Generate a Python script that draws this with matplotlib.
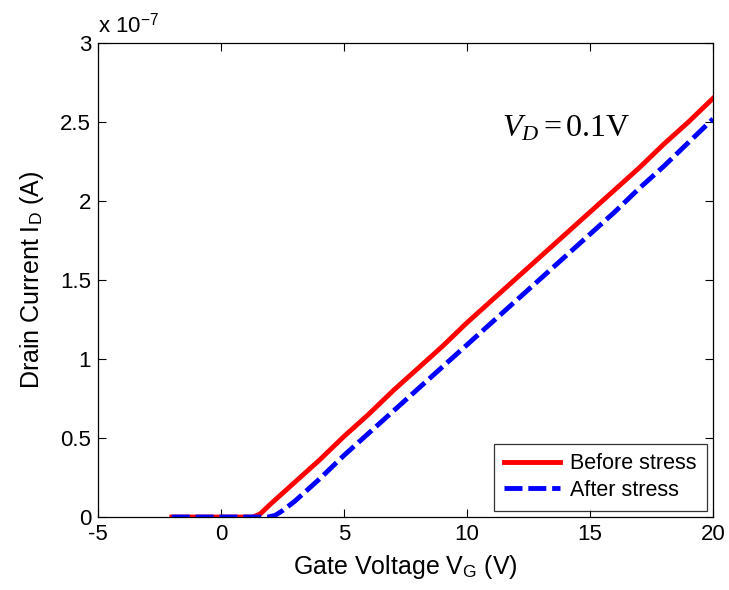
import numpy as np
import matplotlib
matplotlib.use("Agg")
import matplotlib.pyplot as plt

plt.rcParams["font.family"] = ["Liberation Sans", "DejaVu Sans"]
plt.rcParams["mathtext.fontset"] = "custom"
plt.rcParams["mathtext.rm"] = "Liberation Serif"
plt.rcParams["mathtext.it"] = "Liberation Serif:italic"
plt.rcParams["mathtext.sf"] = "Liberation Sans"

# gate voltage (V) and drain current (units of 1e-7 A)
vg_before = [-2, 1.3, 1.6, 2, 2.5, 3, 4, 5, 6, 7, 8, 9, 10, 11, 12, 13, 14,
             15, 16, 17, 18, 19, 20]
id_before = [0, 0, 0.02, 0.08, 0.15, 0.22, 0.36, 0.51, 0.65, 0.80, 0.94,
             1.08, 1.23, 1.37, 1.51, 1.65, 1.79, 1.93, 2.07, 2.21, 2.36,
             2.50, 2.65]

vg_after = [-2, 1.9, 2.2, 2.5, 3, 4, 5, 6, 7, 8, 9, 10, 11, 12, 13, 14, 15,
            16, 17, 18, 19, 20]
id_after = [0, 0, 0.01, 0.04, 0.10, 0.24, 0.39, 0.53, 0.67, 0.81, 0.95,
            1.09, 1.23, 1.37, 1.51, 1.65, 1.79, 1.93, 2.08, 2.22, 2.37, 2.52]

xticks = [-5, 0, 5, 10, 15, 20]
yticks = [0, 0.5, 1, 1.5, 2, 2.5, 3]
ytick_labels = ["0", "0.5", "1", "1.5", "2", "2.5", "3"]

fig = plt.figure(figsize=(7.29, 5.9), dpi=100)
ax = fig.add_axes([0.1344, 0.1237, 0.8436, 0.8033])

ax.plot(vg_before, id_before, color="#ff0000", linewidth=3.5,
        label="Before stress")
ax.plot(vg_after, id_after, color="#0000ff", linewidth=3.5,
        linestyle=(0, (3.7, 1.2)), label="After stress")

ax.set_xlim(-5, 20)
ax.set_ylim(0, 3)
ax.set_xticks(xticks)
ax.set_xticklabels([str(t) for t in xticks])
ax.set_yticks(yticks)
ax.set_yticklabels(ytick_labels)
ax.tick_params(direction="in", length=6, width=0.8, labelsize=16,
               top=True, right=True, pad=5)
for s in ax.spines.values():
    s.set_linewidth(0.9)

ax.set_xlabel(r"Gate Voltage V$_\mathsf{G}$ (V)", fontsize=18, labelpad=6)
ax.set_ylabel(r"Drain Current I$_\mathsf{D}$ (A)", fontsize=18, labelpad=10)

ax.text(0.0, 1.012, r"x 10$^\mathsf{-7}$", transform=ax.transAxes,
        fontsize=16, ha="left", va="bottom")

ax.text(0.762, 0.82, r"$V_D = 0.1\mathrm{V}$", transform=ax.transAxes,
        fontsize=23, ha="center", va="center")

leg = ax.legend(loc="lower right", fontsize=15.5, frameon=True,
                fancybox=False, edgecolor="black", handlelength=2.6,
                borderaxespad=0.3, borderpad=0.45, labelspacing=0.25,
                handletextpad=0.5)
leg.get_frame().set_linewidth(0.9)

fig.savefig("out.png", dpi=100)
